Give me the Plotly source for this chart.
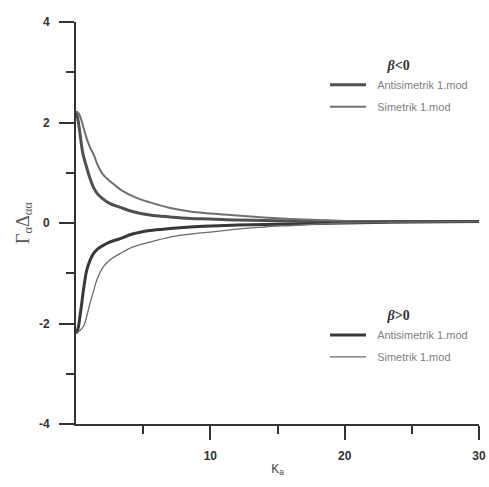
import plotly.graph_objects as go

# ---- data ----
x_anti_neg = [0, 0.15, 0.3, 0.5, 0.8, 1.05, 1.3, 1.6, 2.0, 2.5, 3.3, 4.2, 5.5, 7, 8.5, 10, 12, 14, 16, 18, 20, 25, 30]
y_anti_neg = [2.22, 2.05, 1.77, 1.4, 1.1, 0.88, 0.71, 0.58, 0.48, 0.39, 0.31, 0.23, 0.16, 0.12, 0.09, 0.08, 0.06, 0.05, 0.04, 0.035, 0.03, 0.03, 0.03]

x_sim_neg = [0, 0.2, 0.4, 0.55, 0.8, 1.05, 1.3, 1.65, 2.0, 2.5, 3.0, 3.4, 4.5, 5.5, 7, 8.5, 10, 12, 14, 16, 18, 20, 25, 30]
y_sim_neg = [2.22, 2.18, 2.05, 1.9, 1.68, 1.5, 1.37, 1.13, 0.97, 0.84, 0.73, 0.65, 0.5, 0.41, 0.3, 0.23, 0.19, 0.15, 0.11, 0.08, 0.06, 0.04, 0.03, 0.03]

x_anti_pos = [0, 0.15, 0.3, 0.45, 0.6, 0.8, 1.05, 1.3, 1.6, 2.0, 2.5, 3.3, 4.2, 5.5, 7, 8.5, 10, 12, 14, 16, 18, 20, 25, 30]
y_anti_pos = [-2.2, -2.1, -1.85, -1.55, -1.25, -0.94, -0.74, -0.61, -0.52, -0.45, -0.38, -0.31, -0.22, -0.15, -0.11, -0.08, -0.06, -0.04, -0.03, -0.02, -0.01, 0.0, 0.02, 0.03]

x_sim_pos = [0, 0.25, 0.55, 0.8, 1.04, 1.3, 1.54, 2.04, 2.6, 3.28, 4.2, 5.5, 7, 8.5, 10, 12, 14, 16, 18, 20, 25, 30]
y_sim_pos = [-2.2, -2.15, -2.06, -1.85, -1.6, -1.36, -1.14, -0.87, -0.72, -0.61, -0.48, -0.38, -0.28, -0.22, -0.18, -0.12, -0.08, -0.05, -0.02, 0.0, 0.02, 0.03]

x_major_ticks = [10, 20, 30]
x_minor_ticks = [5, 15, 25]
y_major_ticks = [-4, -2, 0, 2, 4]
y_major_labels = ["-4", "-2", "0", "2", "4"]
y_minor_ticks = [-3, -1, 1, 3]

name_anti = "Antisimetrik 1.mod"
name_sim = "Simetrik 1.mod"

fig = go.Figure()
fig.add_trace(go.Scatter(x=x_anti_neg, y=y_anti_neg, mode="lines", name="&nbsp;&nbsp;" + name_anti,
                         line=dict(color="#505050", width=3, shape="spline"),
                         legend="legend", legendgroup="a1"))
fig.add_trace(go.Scatter(x=x_sim_neg, y=y_sim_neg, mode="lines", name="&nbsp;&nbsp;" + name_sim,
                         line=dict(color="#707070", width=2, shape="spline"),
                         legend="legend", legendgroup="s1"))
fig.add_trace(go.Scatter(x=x_anti_pos, y=y_anti_pos, mode="lines", name="&nbsp;&nbsp;" + name_anti,
                         line=dict(color="#383838", width=3, shape="spline"),
                         legend="legend2", legendgroup="a2"))
fig.add_trace(go.Scatter(x=x_sim_pos, y=y_sim_pos, mode="lines", name="&nbsp;&nbsp;" + name_sim,
                         line=dict(color="#6a6a6a", width=1.3, shape="spline"),
                         legend="legend2", legendgroup="s2"))

axis_color = "#333333"
legend_font = dict(family="Liberation Sans, Arial", size=11, color="#808080")
legend_title_font = dict(family="Liberation Serif, Times New Roman, serif", size=14, color="#333333", weight="bold")

fig.update_layout(
    width=489, height=487,
    margin=dict(l=76, r=10, t=22, b=63, autoexpand=False),
    paper_bgcolor="white", plot_bgcolor="white",
    xaxis=dict(
        range=[0, 30], showgrid=False, zeroline=False, automargin=False,
        showline=True, linecolor=axis_color, linewidth=2,
        ticks="outside", ticklen=14, tickwidth=2, tickcolor=axis_color,
        tickvals=x_major_ticks, ticklabelstandoff=6,
        tickfont=dict(family="Liberation Sans, Arial", size=12, color="#333333", weight="bold"),
        minor=dict(tickvals=x_minor_ticks, ticks="outside", ticklen=8, tickwidth=2, tickcolor=axis_color),
        title=dict(text="K<sub>a</sub>", font=dict(family="Liberation Sans, Arial", size=12, color="#444444"),
                   standoff=2),
    ),
    yaxis=dict(
        range=[-4, 4], showgrid=False, zeroline=False, automargin=False,
        showline=True, linecolor=axis_color, linewidth=2,
        ticks="outside", ticklen=15, tickwidth=2, tickcolor=axis_color,
        tickvals=y_major_ticks, ticktext=y_major_labels, ticklabelstandoff=7,
        tickfont=dict(family="Liberation Sans, Arial", size=12, color="#333333", weight="bold"),
        minor=dict(tickvals=y_minor_ticks, ticks="outside", ticklen=8, tickwidth=2, tickcolor=axis_color),
        title=dict(text="Γ<sub>α</sub>Δ<sub>αα</sub>",
                   font=dict(family="Liberation Serif, Times New Roman, serif", size=18, color="#555555"),
                   standoff=5),
    ),
    legend=dict(
        x=0.618, y=0.925, xanchor="left", yanchor="top", tracegroupgap=3,
        bgcolor="rgba(0,0,0,0)", font=legend_font, itemwidth=36,
        title=dict(text="<i>β</i>&lt;0", side="top center", font=legend_title_font),
    ),
    legend2=dict(
        x=0.618, y=0.303, xanchor="left", yanchor="top", tracegroupgap=3,
        bgcolor="rgba(0,0,0,0)", font=legend_font, itemwidth=36,
        title=dict(text="<i>β</i>&gt;0", side="top center", font=legend_title_font),
    ),
)

fig.write_html("out.html", config={"displayModeBar": False},
               post_script="document.body.style.margin='0';")
